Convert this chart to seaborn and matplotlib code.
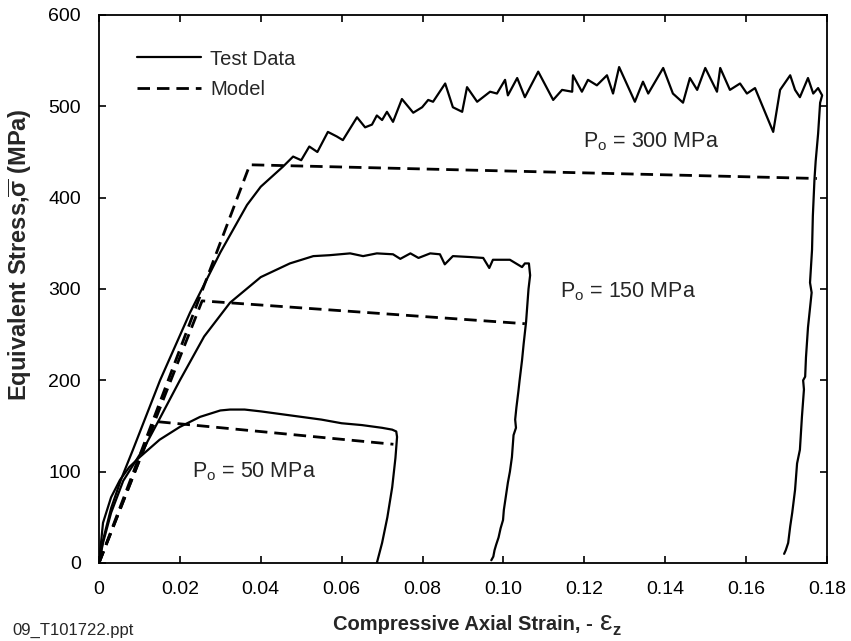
import pandas as pd
import matplotlib
matplotlib.use('Agg')
import matplotlib.pyplot as plt
import seaborn as sns

sns.set_style('ticks')
plt.rcParams['font.family'] = ['Liberation Sans', 'DejaVu Sans']
plt.rcParams['mathtext.fontset'] = 'custom'
plt.rcParams['mathtext.rm'] = 'Liberation Sans'
plt.rcParams['mathtext.it'] = 'Liberation Sans'
plt.rcParams['mathtext.bf'] = 'Liberation Sans:bold'
plt.rcParams['mathtext.default'] = 'regular'

# test data, Po = 50 MPa (loading + unloading)
test50_x = [0, 0.001, 0.003, 0.0052, 0.0075, 0.0101, 0.015, 0.020, 0.025, 0.030, 0.0324,
            0.036, 0.040, 0.045, 0.050, 0.055, 0.060, 0.065, 0.070, 0.0725, 0.0735,
            0.0737, 0.0733, 0.0725, 0.0713, 0.0700, 0.0687]
test50_y = [0, 44, 72, 91, 105, 116, 135, 149, 160, 167, 168,
            168, 166, 163, 160, 157, 153, 151, 148, 146, 144,
            138, 115, 83, 50, 22, 0]

# test data, Po = 150 MPa
test150_x = [0, 0.001, 0.003, 0.006, 0.0114, 0.015, 0.020, 0.026, 0.0324, 0.040, 0.0472,
             0.053, 0.057, 0.0621, 0.0653, 0.0687, 0.0727, 0.0745, 0.0770, 0.0790, 0.0819,
             0.0843, 0.0855, 0.0875, 0.0917, 0.0950, 0.0965, 0.0974, 0.1016, 0.1046, 0.1053,
             0.1063, 0.1066, 0.1062, 0.1056, 0.1050, 0.1046, 0.1040, 0.1037, 0.1032, 0.1029,
             0.1031, 0.1025, 0.1021, 0.1016, 0.1011, 0.1005, 0.1001, 0.0999, 0.0993, 0.0988,
             0.0982, 0.0978, 0.0975, 0.0970]
test150_y = [0, 22, 55, 90, 128, 158, 200, 248, 285, 313, 328,
             336, 337, 339, 336, 339, 338, 333, 339, 334, 339,
             338, 327, 336, 335, 334, 323, 332, 332, 324, 328,
             328, 315, 300, 264, 240, 222, 200, 188, 170, 157,
             148, 140, 116, 100, 88, 70, 58, 47, 38, 28,
             20, 14, 7, 3]

# test data, Po = 300 MPa
test300_x = [0, 0.001, 0.003, 0.0055, 0.0084, 0.0151, 0.0225, 0.030, 0.0366, 0.040, 0.0455,
             0.048, 0.050, 0.052, 0.054, 0.0566, 0.0588, 0.0603, 0.0638, 0.0658, 0.0675,
             0.0687, 0.0700, 0.0712, 0.0727, 0.0749, 0.0777, 0.0799, 0.0814, 0.0826, 0.0856,
             0.0875, 0.0898, 0.0910, 0.0935, 0.0967, 0.0984, 0.1004, 0.1011, 0.1034, 0.1053,
             0.1086, 0.1123, 0.1145, 0.1170, 0.1172, 0.1194, 0.1209, 0.1231, 0.1256, 0.1271,
             0.1286, 0.1325, 0.1345, 0.1358, 0.1395, 0.1419, 0.1444, 0.1461, 0.1479, 0.1499,
             0.1528, 0.1536, 0.1560, 0.1585, 0.1602, 0.1622, 0.1667, 0.1684, 0.1709, 0.1721,
             0.1733, 0.1753, 0.1766, 0.1778, 0.1788, 0.1783, 0.1778, 0.1772, 0.1769, 0.1765,
             0.1763, 0.1758, 0.1762, 0.1753, 0.1748, 0.1746, 0.1741, 0.1743, 0.1738, 0.1733,
             0.1726, 0.1721, 0.1714, 0.1709, 0.1704, 0.1698, 0.1694]
test300_y = [0, 25, 60, 92, 124, 200, 274, 340, 392, 412, 434,
             445, 441, 456, 450, 472, 467, 463, 488, 477, 480,
             490, 485, 494, 483, 508, 493, 499, 507, 505, 525,
             499, 494, 521, 505, 516, 514, 529, 512, 531, 510,
             538, 507, 518, 516, 534, 516, 529, 523, 534, 514,
             543, 505, 527, 514, 542, 514, 504, 531, 518, 542,
             516, 542, 518, 525, 514, 520, 472, 518, 534, 518,
             510, 531, 514, 520, 512, 504, 470, 440, 420, 380,
             343, 307, 296, 258, 225, 204, 200, 190, 160, 124,
             109, 80, 55, 40, 22, 14, 10]

# model curves
model50_x = [0, 0.0138, 0.0728]
model50_y = [0, 155, 130]
model150_x = [0, 0.0255, 0.1053]
model150_y = [0, 287, 262]
model300_x = [0, 0.0373, 0.1775]
model300_y = [0, 436, 421]

x_ticks = [0, 0.02, 0.04, 0.06, 0.08, 0.10, 0.12, 0.14, 0.16, 0.18]
x_ticklabels = ['0', '0.02', '0.04', '0.06', '0.08', '0.10', '0.12', '0.14', '0.16', '0.18']
y_ticks = [0, 100, 200, 300, 400, 500, 600]

fig, ax = plt.subplots(figsize=(8.51, 6.41), dpi=100)
fig.subplots_adjust(left=0.1163, right=0.9718, top=0.9766, bottom=0.1217)

for xs, ys in [(test50_x, test50_y), (test150_x, test150_y), (test300_x, test300_y)]:
    sns.lineplot(x=xs, y=ys, sort=False, estimator=None, color='black', lw=1.6, ax=ax)
for xs, ys in [(model50_x, model50_y), (model150_x, model150_y), (model300_x, model300_y)]:
    sns.lineplot(x=xs, y=ys, sort=False, estimator=None, color='black', lw=2.0,
                 linestyle=(0, (4.5, 2.5)), ax=ax)

lines = ax.get_lines()
ax.legend([lines[0], lines[3]], ['Test Data', 'Model'], loc='upper left',
          bbox_to_anchor=(0.052, 0.937), frameon=False, fontsize=14.5,
          handlelength=3.2, handletextpad=0.45, borderpad=0, borderaxespad=0,
          labelspacing=0.55)

ax.text(0.1197, 461, r'P$_\mathregular{o}$ = 300 MPa', fontsize=15.5, va='center', ha='left')
ax.text(0.114, 297, r'P$_\mathregular{o}$ = 150 MPa', fontsize=15.5, va='center', ha='left')
ax.text(0.023, 100, r'P$_\mathregular{o}$ = 50 MPa', fontsize=15.5, va='center', ha='left')

ax.set_xlim(0, 0.18)
ax.set_ylim(0, 600)
ax.set_xticks(x_ticks)
ax.set_xticklabels(x_ticklabels)
ax.set_yticks(y_ticks)
ax.tick_params(direction='in', top=True, right=True, length=5, width=1.2,
               labelsize=14, colors='black')
ax.tick_params(axis='x', pad=13)
ax.tick_params(axis='y', pad=13)
for s in ax.spines.values():
    s.set_linewidth(1.3)
    s.set_color('black')

ax.set_xlabel('Compressive Axial Strain, -', fontsize=14.5, fontweight='bold', labelpad=12)
ax.set_ylabel(r'Equivalent Stress,$\overline{\sigma}$ (MPa)', fontsize=17,
              fontweight='bold')
ax.yaxis.set_label_coords(-0.089, 0.562)

# strain symbol drawn a bit larger, right after the x label
fig.canvas.draw()
bb = ax.xaxis.label.get_window_extent()
fig.text((bb.x1 + 6) / 851, (bb.y0 + 4) / 641, r'$\varepsilon$', fontsize=20,
         ha='left', va='baseline')
fig.text((bb.x1 + 20) / 851, (bb.y0 - 1) / 641, 'z', fontsize=12, fontweight='bold',
         ha='left', va='baseline')

fig.text(12 / 851, 1 - 630 / 641, '09_T101722.ppt', fontsize=12, ha='left', va='center')

fig.savefig('out.png', dpi=100)
